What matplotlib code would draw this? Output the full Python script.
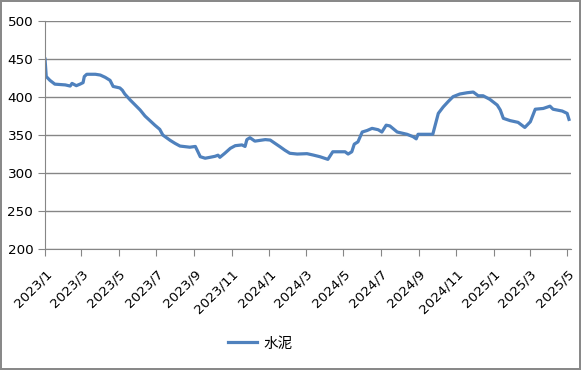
import pandas as pd
import matplotlib
matplotlib.use("Agg")
import matplotlib.pyplot as plt
import matplotlib.dates as mdates

plt.rcParams['font.family'] = ['DejaVu Sans', 'Noto Sans CJK SC']

dates = ["2023-01-01", "2023-01-03", "2023-01-09", "2023-01-17", "2023-02-03", "2023-02-11",
         "2023-02-14", "2023-02-21", "2023-02-27", "2023-03-04", "2023-03-06", "2023-03-10",
         "2023-03-24", "2023-04-01", "2023-04-09", "2023-04-17", "2023-04-22", "2023-05-03",
         "2023-05-07", "2023-05-11", "2023-05-20", "2023-06-05", "2023-06-13", "2023-06-21",
         "2023-06-29", "2023-07-07", "2023-07-12", "2023-07-24", "2023-08-01", "2023-08-09",
         "2023-08-25", "2023-09-03", "2023-09-06", "2023-09-11", "2023-09-19", "2023-09-27",
         "2023-10-05", "2023-10-10", "2023-10-13", "2023-10-21", "2023-10-30", "2023-11-07",
         "2023-11-18", "2023-11-23", "2023-11-26", "2023-12-01", "2023-12-09", "2023-12-26",
         "2024-01-03", "2024-01-11", "2024-01-19", "2024-01-27", "2024-02-04", "2024-02-16",
         "2024-03-03", "2024-03-13", "2024-03-24", "2024-04-06", "2024-04-14", "2024-05-04",
         "2024-05-09", "2024-05-15", "2024-05-19", "2024-05-25", "2024-06-01", "2024-06-09",
         "2024-06-17", "2024-06-27", "2024-07-03", "2024-07-10", "2024-07-16", "2024-07-28",
         "2024-08-13", "2024-08-23", "2024-08-28", "2024-08-31", "2024-09-15", "2024-09-24",
         "2024-10-03", "2024-10-11", "2024-10-19", "2024-10-27", "2024-11-07", "2024-11-19",
         "2024-11-29", "2024-12-07", "2024-12-15", "2024-12-26", "2025-01-07", "2025-01-12",
         "2025-01-17", "2025-01-28", "2025-02-10", "2025-02-21", "2025-03-02", "2025-03-10",
         "2025-03-23", "2025-04-03", "2025-04-08", "2025-04-23", "2025-05-01", "2025-05-04"]

cement = [450, 427, 422, 417, 416, 414.5,
          418, 415, 417, 419, 427, 430,
          430, 429, 426, 422, 414, 412,
          409, 404, 396, 383, 375, 369,
          363, 357.5, 350, 343, 339, 335.5,
          334, 335, 330, 321.5, 319.5, 320.7,
          322, 323.5, 320.7, 326, 332.5, 336,
          337, 335, 344, 346.5, 342, 344,
          343.4, 339, 334.6, 330, 326, 325,
          325.5, 323.7, 321.5, 318, 328, 328,
          325, 328, 338, 341, 354, 356,
          358.8, 357, 354, 363, 362, 354,
          351, 347.8, 345, 351, 351, 351,
          378.5, 387, 394, 400.5, 404, 405.7,
          406.6, 401.7, 401.7, 397, 389.5, 383,
          372, 369, 366.7, 360, 367.5, 384,
          385, 388, 384, 381.6, 378.5, 370.6]

x = pd.to_datetime(dates)

fig = plt.figure(figsize=(5.81, 3.70), dpi=100)
fig.patch.set_edgecolor('#898989')
fig.patch.set_linewidth(1.5)
ax = fig.add_axes([0.0775, 0.327, 0.905, 0.616])

ax.plot(x, cement, color='#4F81BD', linewidth=2.3, label='水泥')

ax.set_ylim(200, 500)
ax.set_yticks(range(200, 501, 50))
ax.set_xlim(pd.Timestamp("2023-01-01"), pd.Timestamp("2025-05-07"))
ax.xaxis.set_major_locator(mdates.MonthLocator(bymonth=[1, 3, 5, 7, 9, 11]))
ax.xaxis.set_major_formatter(mdates.DateFormatter('%Y/%-m'))

ax.grid(axis='y', color='#868686', linewidth=1)
ax.set_axisbelow(True)
for s in ['top', 'right']:
    ax.spines[s].set_visible(False)
for s in ['left', 'bottom']:
    ax.spines[s].set_color('#868686')
ax.tick_params(axis='both', colors='#868686', labelcolor='black', labelsize=9.7, length=5)
ax.tick_params(axis='x', pad=8)
plt.setp(ax.get_xticklabels(), rotation=45, ha='right', rotation_mode='anchor')

fig.legend(loc='center', bbox_to_anchor=(0.448, 0.073), frameon=False, fontsize=10.5,
           handlelength=2.0, handletextpad=0.45)

plt.savefig('out.png', dpi=100)
